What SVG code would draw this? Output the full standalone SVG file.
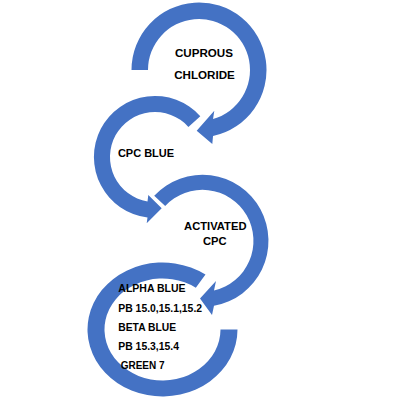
<svg xmlns="http://www.w3.org/2000/svg" width="400" height="400" viewBox="0 0 400 400">
<style>
.arr{fill:#4472C4;stroke:none}
.t{font-family:"Liberation Sans",Arial,sans-serif;font-weight:bold;fill:#000}
.m{text-anchor:middle}
</style>
<rect width="400" height="400" fill="#fff"/>
<g id="connectors">
<path class="arr" d="M131.5,70 A67.5,67.5 0 1 1 213.03,136.02 L212.3,144 L196.7,130.7 L214.3,110.7 L213.06,119.03 A51,51 0 1 0 148,70 Z"/>
<path class="arr" d="M200.3,116.2 A61,61 0 1 0 147.5,217.5 L146.7,223.3 L161.7,208.3 L148.3,195 L147.5,201.4 A45,45 0 1 1 188.4,126.9 Z"/>
<path class="arr" d="M154.2,195.8 A66,66 0 1 1 214,305.8 L212,315 L200,298.5 L216,281 L214,290.5 A51,51 0 1 0 165.2,206 Z"/>
<path class="arr" d="M205.5,274.6 A75,67 0 1 0 237.5,329.5 L220.5,329.5 A58,51 0 1 1 195.8,287.7 Z"/>
</g>
<g id="cuprous-chloride">
<text class="t m" x="204" y="57" font-size="11.6">CUPROUS</text>
<text class="t m" x="204.5" y="79" font-size="11.6">CHLORIDE</text>
</g>
<g id="cpc-blue">
<text class="t m" x="146" y="157" font-size="11">CPC BLUE</text>
</g>
<g id="activated-cpc">
<text class="t m" x="215.3" y="229.5" font-size="11.2">ACTIVATED</text>
<text class="t m" x="214.7" y="245" font-size="11.2">CPC</text>
</g>
<g id="products">
<text class="t" x="118.3" y="291.7" font-size="10.5">ALPHA BLUE</text>
<text class="t" x="118.3" y="311.5" font-size="10.4">PB 15.0,15.1,15.2</text>
<text class="t" x="118.3" y="331" font-size="10.3">BETA BLUE</text>
<text class="t" x="118.3" y="350" font-size="10.4">PB 15.3,15.4</text>
<text class="t" x="120.7" y="369" font-size="10">GREEN 7</text>
</g>
</svg>
